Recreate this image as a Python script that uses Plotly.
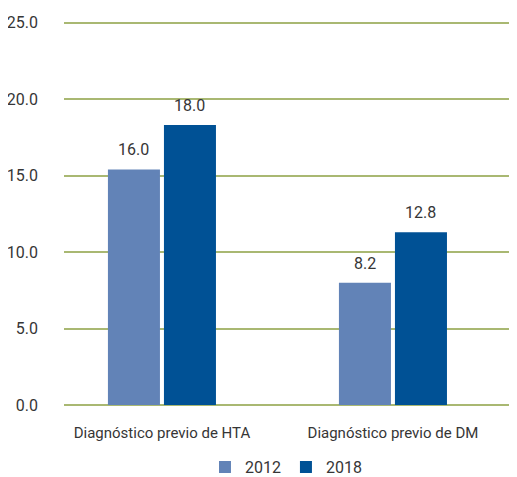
import plotly.graph_objects as go

categories = ["Diagnóstico previo de HTA", "Diagnóstico previo de DM"]
series_names = ["2012", "2018"]
values_2012 = [15.4, 8.0]
values_2018 = [18.3, 11.3]
labels_2012 = ["16.0", "8.2"]
labels_2018 = ["18.0", "12.8"]
y_ticks = [0, 5, 10, 15, 20, 25]
y_tick_labels = ["0.0", "5.0", "10.0", "15.0", "20.0", "25.0"]

FONT = "Roboto, sans-serif"
TXT = "#363636"
FS = 15

fig = go.Figure()
fig.add_trace(go.Bar(
    x=categories, y=values_2012, name=series_names[0],
    marker=dict(color="#6283b7", line=dict(width=0)),
))
fig.add_trace(go.Bar(
    x=categories, y=values_2018, name=series_names[1],
    marker=dict(color="#005195", line=dict(width=0)),
))

for vals, labs, dx in [(values_2012, labels_2012, -28), (values_2018, labels_2018, 28)]:
    for c, v, t in zip(categories, vals, labs):
        fig.add_annotation(x=c, y=v, text=t, showarrow=False, xshift=dx, yshift=8,
                           yanchor="bottom", xanchor="center",
                           font=dict(family=FONT, size=FS + 1, color=TXT))

# the page adds an 8px body margin, so the figure is 8px smaller and offset
fig.update_layout(
    width=509, height=469,
    margin=dict(l=56, r=0, t=10.4, b=72, autoexpand=False),
    paper_bgcolor="white", plot_bgcolor="white",
    barmode="group", bargap=0.515, bargroupgap=0.0714,
    font=dict(family=FONT, size=FS, color=TXT),
    showlegend=True,
    legend=dict(orientation="h", x=0.49, xanchor="center", y=-0.1604, yanchor="middle",
                font=dict(family=FONT, size=FS + 1, color=TXT), traceorder="normal"),
    xaxis=dict(range=[-0.424, 1.537], showgrid=False, showline=False, zeroline=False,
               ticks="", ticklabelstandoff=17, automargin=False,
               tickfont=dict(family=FONT, size=FS, color=TXT)),
    yaxis=dict(range=[0, 25.3], tickvals=y_ticks, ticktext=y_tick_labels,
               showgrid=True, gridcolor="#a9b872", gridwidth=1.5,
               zeroline=True, zerolinecolor="#a9b872", zerolinewidth=1.5,
               showline=False, ticks="", ticklabelstandoff=25, automargin=False,
               tickfont=dict(family=FONT, size=FS + 1, color=TXT)),
)

fig.write_html("out.html")
